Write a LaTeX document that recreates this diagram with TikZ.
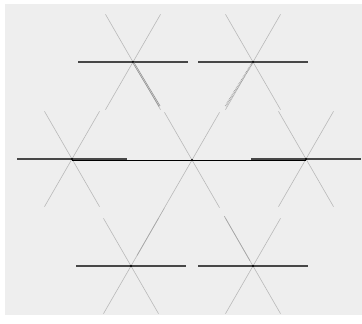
\documentclass[tikz,border=0pt]{standalone}
\usetikzlibrary{calc}
\definecolor{panel}{HTML}{EEEEEE}
\tikzset{
  spoke/.style={draw=gray!55,line width=0.6pt},
  bar/.style={draw=black!72,line width=1.2pt},
  link/.style={draw=black,line width=1pt},
  shade/.style={draw=black!45,line width=0.6pt}
}
\begin{document}
\begin{tikzpicture}[x=1pt,y=-1pt]
  \useasboundingbox (0,0) rectangle (362,324);
  \fill[white] (0,0) rectangle (362,324);
  \fill[panel] (5,4) rectangle (362,315);
  % star centres
  \coordinate (A) at (133,62);
  \coordinate (B) at (253,62);
  \coordinate (C) at (72,159);
  \coordinate (D) at (192,160);
  \coordinate (E) at (306,159);
  \coordinate (F) at (131,266);
  \coordinate (G) at (253,266);
  % slanted spokes
  \foreach \p in {A,B,C,D,E,F,G}
    \draw[spoke] (\p) -- +(60:55) (\p) -- +(120:55) (\p) -- +(-60:55) (\p) -- +(-120:55);
  % level bars
  \foreach \p in {A,B,C,E,F,G}
    \draw[bar] (\p) +(-55,0) -- +(55,0);
  % middle row link
  \draw[link] ($(C)+(0,1.5)$) -- ($(E)+(0,1.5)$);
  % darker runs towards the centre
  \draw[shade,double=gray!35,double distance=0.5pt] (A) -- ($(A)!0.45!(D)$);
  \draw[shade,double=gray!30,double distance=0.5pt,densely dotted] (B) -- ($(B)!0.45!(D)$);
  \draw[shade,draw=gray!70] ($(F)!0.1!(D)$) -- ($(F)!0.55!(D)$);
  \draw[shade,draw=gray!70] ($(G)!0.05!(D)$) -- ($(G)!0.47!(D)$);
  % centre dots
  \foreach \p in {A,B,C,D,E,F,G}
    \fill (\p) circle (1.1pt);
\end{tikzpicture}
\end{document}
